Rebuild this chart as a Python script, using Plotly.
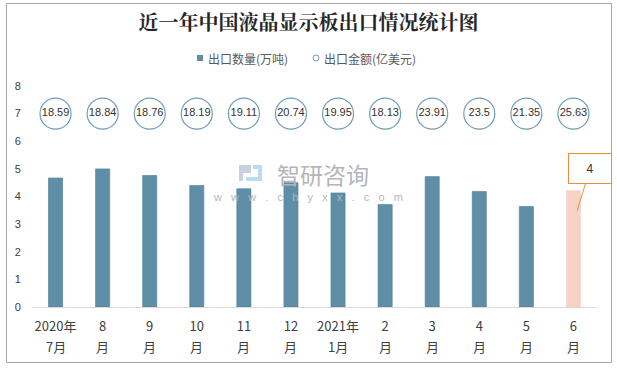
import plotly.graph_objects as go

month_top = ["2020年", "8", "9", "10", "11", "12", "2021年", "2", "3", "4", "5", "6"]
month_bottom = ["7月", "月", "月", "月", "月", "月", "1月", "月", "月", "月", "月", "月"]
quantity = [4.67, 5.0, 4.76, 4.40, 4.28, 4.50, 4.13, 3.71, 4.72, 4.18, 3.64, 4.21]
amount = [18.59, 18.84, 18.76, 18.19, 19.11, 20.74, 19.95, 18.13, 23.91, 23.5, 21.35, 25.63]
amount_level = [7] * 12
series_names = ["出口数量(万吨)", "出口金额(亿美元)"]
callout_text = "4"

xs = list(range(len(month_top)))
bar_colors = ["#5e8fa6"] * (len(xs) - 1) + ["#f7d0c6"]
line_colors = ["#4d7f97"] * (len(xs) - 1) + ["#f7d0c6"]

# plot area in pixels (for converting decorations to paper coords)
L, R, T, B = 32, 597, 86, 307
W, H = R - L, B - T


def px(x):
    return (x - L) / W


def py(y):
    return (B - y) / H


fig = go.Figure()
fig.add_trace(go.Bar(
    x=xs, y=quantity, width=0.3,
    marker=dict(color=bar_colors, line=dict(color=line_colors, width=0.6)),
    showlegend=False, hoverinfo="y",
))
fig.add_trace(go.Scatter(
    x=xs, y=amount_level, mode="markers+text",
    marker=dict(symbol="circle", size=31, color="white",
                line=dict(color="#6e9cb6", width=1.2)),
    text=[f"{v:g}" for v in amount], textposition="middle center",
    textfont=dict(family="Liberation Sans, Arial", size=11, color="#333333"),
    showlegend=False, cliponaxis=False,
))

# second line of the category labels
for xi, lab in zip(xs, month_bottom):
    fig.add_annotation(x=xi, xref="x", y=py(346), yref="paper", yanchor="middle",
                       text=lab, showarrow=False,
                       font=dict(family="Noto Sans CJK SC", size=13, color="#404040"))

# legend (manual, compact like the reference)
fig.add_shape(type="rect", xref="paper", yref="paper",
              x0=px(197), x1=px(203), y0=py(61), y1=py(55),
              fillcolor="#5e8fa6", line=dict(width=0))
fig.add_shape(type="circle", xref="paper", yref="paper",
              x0=px(313), x1=px(319), y0=py(61), y1=py(55),
              fillcolor="white", line=dict(color="#6e9cb6", width=1))
fig.add_annotation(xref="paper", yref="paper", x=px(206), y=py(58), xanchor="left",
                   yanchor="middle", text=series_names[0], showarrow=False,
                   font=dict(family="Noto Sans CJK SC", size=12, color="#595959"))
fig.add_annotation(xref="paper", yref="paper", x=px(322), y=py(58), xanchor="left",
                   yanchor="middle", text=series_names[1], showarrow=False,
                   font=dict(family="Noto Sans CJK SC", size=12, color="#595959"))

# watermark
fig.add_shape(type="path", xref="paper", yref="paper",
              path=(f"M {px(239)} {py(165)} L {px(251)} {py(165)} L {px(251)} {py(173)} "
                    f"L {px(243)} {py(173)} L {px(243)} {py(181)} L {px(239)} {py(181)} Z"),
              fillcolor="#c9d0e2", line=dict(width=0))
fig.add_shape(type="path", xref="paper", yref="paper",
              path=(f"M {px(253)} {py(165)} L {px(262)} {py(165)} L {px(262)} {py(181)} "
                    f"L {px(246)} {py(181)} L {px(246)} {py(177)} L {px(258)} {py(177)} "
                    f"L {px(258)} {py(169)} L {px(253)} {py(169)} Z"),
              fillcolor="#b9dcf0", line=dict(width=0))
fig.add_annotation(xref="paper", yref="paper", x=px(323), y=py(174), text="智研咨询",
                   showarrow=False, font=dict(family="Noto Sans CJK SC", size=23, color="#b4b6ba"))
fig.add_annotation(xref="paper", yref="paper", x=px(308), y=py(197),
                   text="w&nbsp;&nbsp;&nbsp;w&nbsp;&nbsp;&nbsp;w&nbsp;&nbsp;&nbsp;.&nbsp;&nbsp;&nbsp;c&nbsp;&nbsp;&nbsp;h&nbsp;&nbsp;&nbsp;y&nbsp;&nbsp;&nbsp;x&nbsp;&nbsp;&nbsp;x&nbsp;&nbsp;&nbsp;.&nbsp;&nbsp;&nbsp;c&nbsp;&nbsp;&nbsp;o&nbsp;&nbsp;&nbsp;m",
                   showarrow=False, font=dict(family="Liberation Sans", size=11, color="#b4b6ba"))

# callout
fig.add_annotation(x=xs[-1] + 0.08, y=3.5, text=callout_text, showarrow=True, arrowhead=0,
                   ax=13, ay=-42, arrowcolor="#e69138", arrowwidth=1,
                   bordercolor="#e69138", borderwidth=1, bgcolor="white",
                   width=40, height=27, font=dict(family="Liberation Sans", size=12, color="#333333"))

# outer border
fig.add_shape(type="rect", xref="paper", yref="paper",
              x0=px(6.5), x1=px(611.5), y0=py(362.5), y1=py(3.5),
              line=dict(color="#a6a6a6", width=1), fillcolor="rgba(0,0,0,0)", layer="below")

fig.update_layout(
    width=617, height=368,
    margin=dict(l=L, r=617 - R, t=T, b=368 - B),
    paper_bgcolor="white", plot_bgcolor="white",
    title=dict(text="<b>近一年中国液晶显示板出口情况统计图</b>", x=0.5, xanchor="center",
               y=1 - 23 / 368, yref="container", yanchor="middle",
               font=dict(family="Noto Serif CJK SC, Noto Sans CJK SC", size=20, color="#262626")),
    showlegend=False,
    xaxis=dict(tickvals=xs, ticktext=month_top, range=[-0.5, 11.5],
               showline=True, linecolor="#d9d9d9", linewidth=1, showgrid=False,
               zeroline=False, ticks="outside", ticklen=7, tickcolor="rgba(0,0,0,0)",
               tickangle=0,
               tickfont=dict(family="Noto Sans CJK SC", size=13, color="#404040")),
    yaxis=dict(range=[0, 8], dtick=1, showgrid=False, zeroline=False, showline=False,
               ticks="outside", ticklen=8, tickcolor="rgba(0,0,0,0)",
               tickfont=dict(family="Liberation Sans", size=11, color="#404040")),
    font=dict(family="Noto Sans CJK SC"),
)

fig.write_html("out.html", config={"displayModeBar": False},
               post_script="document.body.style.margin='0';document.body.style.overflow='hidden';")
